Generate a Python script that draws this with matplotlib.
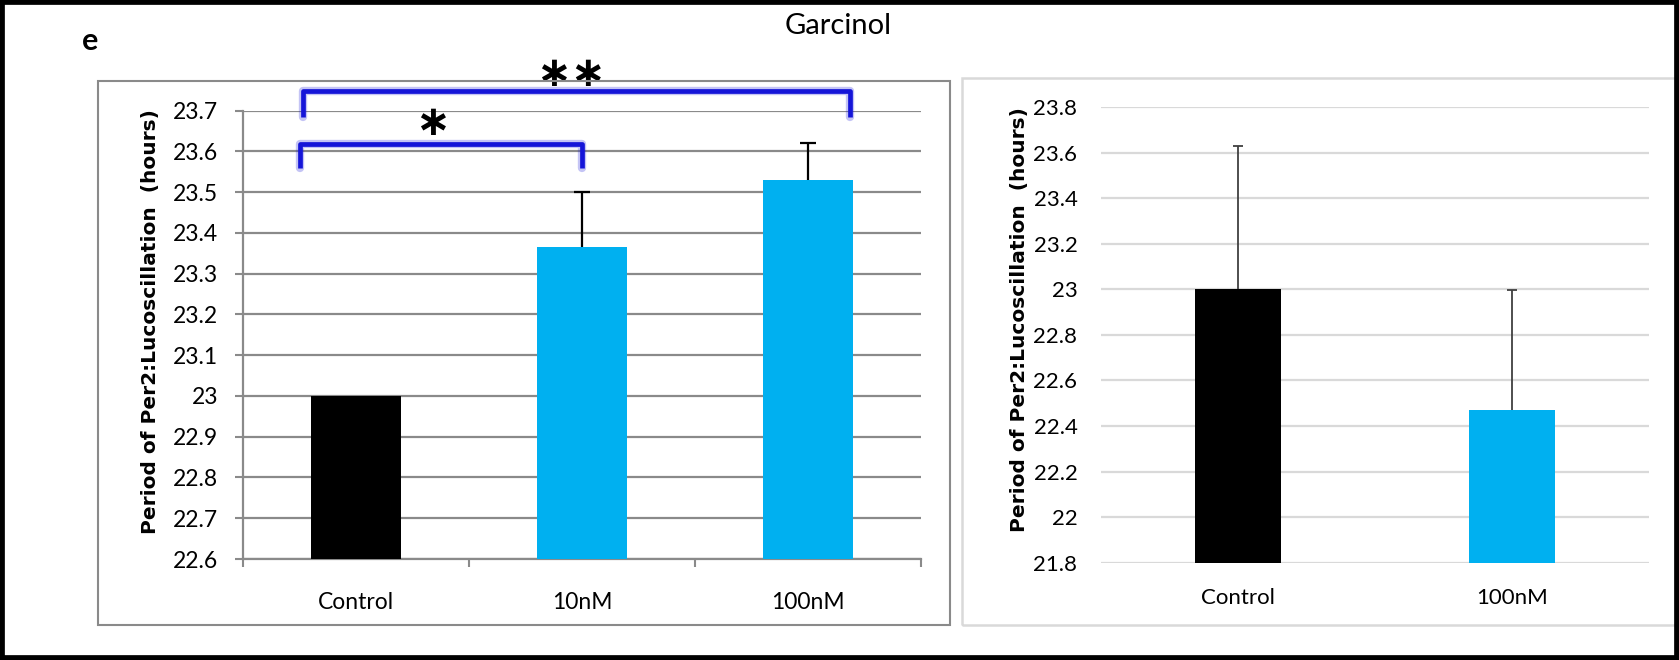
import matplotlib
matplotlib.use("Agg")
import matplotlib.pyplot as plt
import numpy as np
from matplotlib.patches import Rectangle

plt.rcParams['font.family'] = ['Lato', 'DejaVu Sans']

# Per2:Luc period, Garcinol treatment
left_groups = ['Control', '10nM', '100nM']
left_period = [23.0, 23.365, 23.53]
left_sem = [0.0, 0.135, 0.09]

right_groups = ['Control', '100nM']
right_period = [23.0, 22.47]
right_sem = [0.63, 0.525]

left_ticks = [22.6, 22.7, 22.8, 22.9, 23.0, 23.1, 23.2, 23.3, 23.4, 23.5, 23.6, 23.7]
right_ticks = [21.8, 22.0, 22.2, 22.4, 22.6, 22.8, 23.0, 23.2, 23.4, 23.6, 23.8]

bar_colors = {'Control': '#000000', '10nM': '#00B0F0', '100nM': '#00B0F0'}
ylabel = 'Period of Per2:Lucoscillation  (hours)'

W, H = 1679, 660
fig = plt.figure(figsize=(W / 100, H / 100), dpi=100)


def fx(px):
    return px / W


def fy(py):
    return 1 - py / H


# panel frames
fig.patches.append(Rectangle((fx(98), fy(625)), fx(950) - fx(98), fy(81) - fy(625),
                             transform=fig.transFigure, fill=False,
                             ec='#8a8a8a', lw=1.5, zorder=0))
fig.patches.append(Rectangle((fx(962), fy(625)), fx(1690) - fx(962), fy(78) - fy(625),
                             transform=fig.transFigure, fill=False,
                             ec='#d9d9d9', lw=1.8, zorder=0))

tick_fmt = lambda v: f"{v:g}"
label_font = dict(fontsize=14.5, fontweight='bold', family='DejaVu Sans', va='center')

# ---- left panel ----
axL = fig.add_axes([fx(243), fy(559), fx(921) - fx(243), fy(110.7) - fy(559)])
xL = np.arange(len(left_groups))
axL.bar(xL, np.array(left_period) - left_ticks[0], bottom=left_ticks[0], width=0.4,
        color=[bar_colors[g] for g in left_groups], zorder=3)
mask = np.array(left_sem) > 0
eb = axL.errorbar(xL[mask], np.array(left_period)[mask],
                  yerr=[np.zeros(mask.sum()), np.array(left_sem)[mask]],
                  fmt='none', ecolor='black', elinewidth=1.6, capsize=5.5,
                  capthick=1.6, zorder=4)
eb.lines[1][0].set_visible(False)

axL.set_xlim(-0.5, len(left_groups) - 0.5)
axL.set_ylim(left_ticks[0], left_ticks[-1])
axL.set_yticks(left_ticks, [tick_fmt(v) for v in left_ticks])
axL.set_xticks(xL, left_groups)
axL.set_xticks(np.arange(len(left_groups) + 1) - 0.5, minor=True)
axL.tick_params(axis='x', which='major', length=0, pad=24, labelsize=16.5)
axL.tick_params(axis='x', which='minor', length=6, width=1.5, color='#8a8a8a',
                direction='out')
axL.tick_params(axis='y', length=6, width=1.5, color='#8a8a8a', pad=12, labelsize=16.5)
axL.yaxis.grid(True, color='#8a8a8a', lw=1.6)
axL.set_axisbelow(True)
for s in ['top', 'right']:
    axL.spines[s].set_visible(False)
for s in ['left', 'bottom']:
    axL.spines[s].set_color('#8a8a8a')
    axL.spines[s].set_linewidth(1.6)
axL.set_ylabel(ylabel, **label_font)
axL.yaxis.set_label_coords(-0.137, 0.53)

# significance brackets
blue = '#1515d8'
brackets = [
    # (x start, x end, y top, y leg end, label, label x, label y)
    (-0.235, 2.186, 23.749, 23.685, '∗∗', 0.951, 23.79),
    (-0.248, 1.0, 23.618, 23.559, '∗', 0.339, 23.669),
]
for x0, x1, ytop, yleg, lab, tx, ty in brackets:
    xs = [x0, x0, x1, x1]
    ys = [yleg, ytop, ytop, yleg]
    axL.plot(xs, ys, color=blue, lw=6, alpha=0.25, clip_on=False, zorder=5,
             solid_joinstyle='round', solid_capstyle='round')
    axL.plot(xs, ys, color=blue, lw=3.4, clip_on=False, zorder=6,
             solid_joinstyle='round', solid_capstyle='butt')
    axL.text(tx, ty, lab, ha='center', va='center', fontsize=30,
             fontweight='bold', family='DejaVu Sans', zorder=7)

# ---- right panel ----
axR = fig.add_axes([fx(1101), fy(562.7), fx(1649) - fx(1101), fy(107) - fy(562.7)])
xR = np.arange(len(right_groups))
axR.bar(xR, np.array(right_period) - right_ticks[0], bottom=right_ticks[0], width=0.315,
        color=[bar_colors[g] for g in right_groups], zorder=3)
ebR = axR.errorbar(xR, right_period, yerr=[np.zeros(len(xR)), right_sem],
                   fmt='none', ecolor='#404040', elinewidth=1.3, capsize=3.5,
                   capthick=1.3, zorder=4)
ebR.lines[1][0].set_visible(False)
axR.set_xlim(-0.5, len(right_groups) - 0.5)
axR.set_ylim(right_ticks[0], right_ticks[-1])
axR.set_yticks(right_ticks, [tick_fmt(v) for v in right_ticks])
axR.set_xticks(xR, right_groups)
axR.tick_params(axis='x', length=0, pad=18, labelsize=16)
axR.tick_params(axis='y', length=0, pad=17, labelsize=16)
axR.yaxis.grid(True, color='#d9d9d9', lw=1.6)
axR.set_axisbelow(True)
for s in axR.spines.values():
    s.set_visible(False)
axR.set_ylabel(ylabel, **label_font)
axR.yaxis.set_label_coords(-0.148, 0.533)

# titles
fig.text(fx(838), fy(26), 'Garcinol', ha='center', va='center', fontsize=21)
fig.text(fx(90), fy(41), 'e', ha='center', va='center', fontsize=22, fontweight='bold')

# outer border
fig.patches.append(Rectangle((0, 0), 1, 1, transform=fig.transFigure, fill=False,
                             ec='black', lw=7, zorder=10))

fig.savefig('out.png', dpi=100)
